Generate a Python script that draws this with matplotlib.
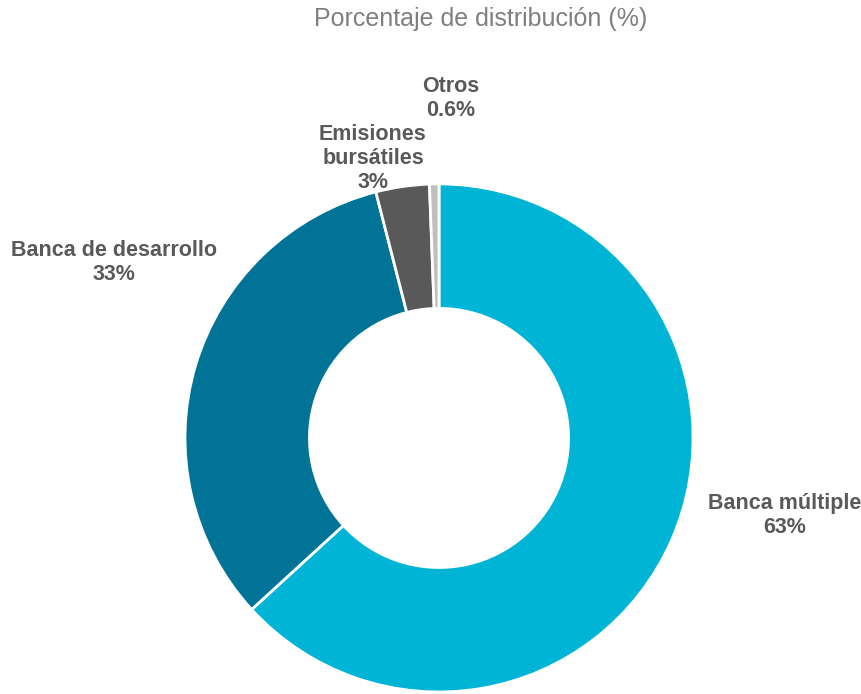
import matplotlib.pyplot as plt

plt.rcParams['font.family'] = ['Liberation Sans', 'DejaVu Sans']

categorias = ['Banca múltiple', 'Banca de desarrollo', 'Emisiones\nbursátiles', 'Otros']
valores = [63.2, 32.8, 3.4, 0.6]
etiquetas_pct = ['63%', '33%', '3%', '0.6%']
colores = ['#00B4D5', '#007396', '#595959', '#BFBFBF']

# posiciones de las etiquetas (en unidades del radio)
pos_etiquetas = [(1.36, -0.305), (-1.28, 0.69), (-0.26, 1.10), (0.045, 1.335)]

fig = plt.figure(figsize=(8.62, 6.94), dpi=100)
ax = fig.add_axes([0, 0, 1, 1])

ax.pie(valores, colors=colores, startangle=90, counterclock=False,
       radius=1.0, wedgeprops=dict(width=0.49, edgecolor='white', linewidth=2))

for cat, pct, (x, y) in zip(categorias, etiquetas_pct, pos_etiquetas):
    ax.text(x, y, f"{cat}\n{pct}", ha='center', va='center', fontsize=15.5,
            fontweight='bold', color='#595959', linespacing=1.2)

ax.set_xlim(-1.728, 1.665)
ax.set_ylim(-1.008, 1.724)
ax.set_aspect('equal')
ax.axis('off')

fig.text(0.558, 0.972, 'Porcentaje de distribución (%)', ha='center', va='center',
         fontsize=18, color='#7F7F7F')

fig.savefig('out.png', dpi=100)
